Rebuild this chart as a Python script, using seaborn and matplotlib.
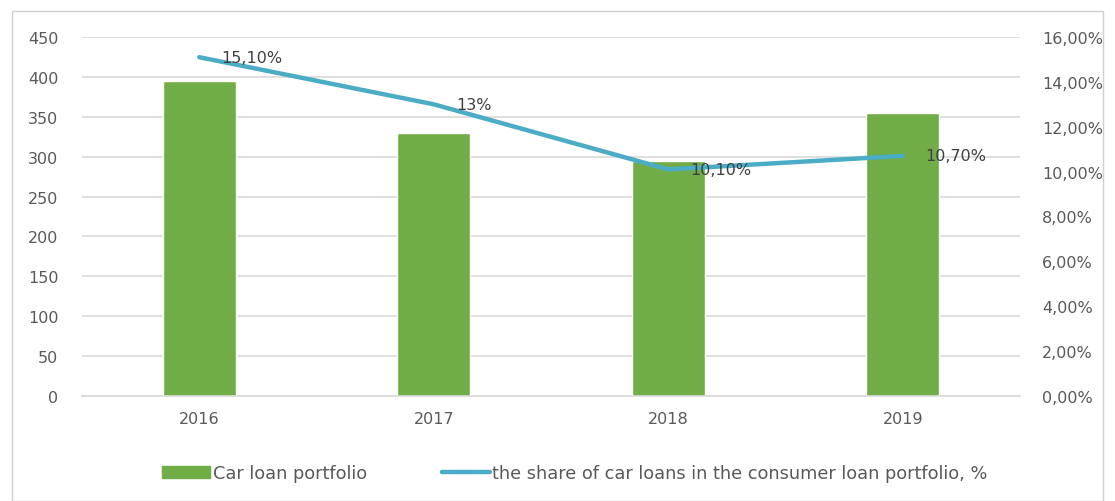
import matplotlib
matplotlib.use("Agg")
import matplotlib.pyplot as plt
from matplotlib.patches import Patch, Rectangle
from matplotlib.lines import Line2D
from matplotlib.ticker import FuncFormatter, MultipleLocator
import seaborn as sns
import pandas as pd

years = ["2016", "2017", "2018", "2019"]
portfolio = [395, 330, 295, 355]
share_pct = [15.1, 13.0, 10.1, 10.7]
share_labels = ["15,10%", "13%", "10,10%", "10,70%"]

bar_name = "Car loan portfolio"
line_name = "the share of car loans in the consumer loan portfolio, %"

GREEN = "#70AD47"
BLUE = "#4BACC6"
TEXT = "#595959"
GRID = "#D9D9D9"
FS = 11.5
LEG_FS = 12.8

sns.set_theme(style="white")
plt.rcParams["font.family"] = ["DejaVu Sans"]

df = pd.DataFrame({"year": years, "portfolio": portfolio,
                   "share": share_pct, "pos": range(len(years))})

fig = plt.figure(figsize=(11.15, 5.02), dpi=100)
ax = fig.add_axes([82 / 1115, 1 - 397 / 502, 938 / 1115, 359 / 502])

sns.barplot(data=df, x="year", y="portfolio", color=GREEN, width=0.31,
            saturation=1, ax=ax, zorder=2)
ax.set_xlim(-0.5, len(years) - 0.5)
ax.set_ylim(0, 450)
ax.yaxis.set_major_locator(MultipleLocator(50))
ax.grid(axis="y", color=GRID, linewidth=1.2, zorder=0)
ax.set_axisbelow(True)
for s in ax.spines.values():
    s.set_visible(False)
ax.spines["bottom"].set_visible(True)
ax.spines["bottom"].set_color(GRID)
ax.spines["bottom"].set_linewidth(1.2)
ax.set_xlabel("")
ax.set_ylabel("")
ax.tick_params(axis="both", length=0, labelsize=FS, labelcolor=TEXT)
ax.tick_params(axis="y", pad=17)
ax.tick_params(axis="x", pad=11)

ax2 = ax.twinx()
sns.lineplot(data=df, x="pos", y="share", color=BLUE, linewidth=3.2,
             ax=ax2, zorder=3)
ax2.set_ylim(0, 16)
ax2.yaxis.set_major_locator(MultipleLocator(2))
ax2.yaxis.set_major_formatter(FuncFormatter(lambda v, _: f"{v:.2f}".replace(".", ",") + "%"))
for s in ax2.spines.values():
    s.set_visible(False)
ax2.set_ylabel("")
ax2.tick_params(axis="y", length=0, labelsize=FS, labelcolor=TEXT, pad=16)
ax2.set_xlim(-0.5, len(years) - 0.5)

for x, y, t in zip(df["pos"], share_pct, share_labels):
    ax2.annotate(t, (x, y), xytext=(16, 0), textcoords="offset points",
                 ha="left", va="center", fontsize=FS, color="#404040", zorder=4)

handles = [Patch(facecolor=GREEN, edgecolor=GREEN),
           Line2D([0], [0], color=BLUE, linewidth=3.2)]
fig.legend(handles, [bar_name, line_name], loc="center",
           bbox_to_anchor=(0.5157, 1 - 474 / 502), ncol=2, frameon=False,
           fontsize=LEG_FS, labelcolor=TEXT, handlelength=2.7,
           handletextpad=0.15, columnspacing=4.2, borderpad=0.0)

fig.patches.append(Rectangle((12 / 1115, 0.0), 1091 / 1115, 1 - 12 / 502,
                             transform=fig.transFigure, fill=False,
                             edgecolor="#D0D0D0", linewidth=1.0))

fig.savefig("out.png", dpi=100)
